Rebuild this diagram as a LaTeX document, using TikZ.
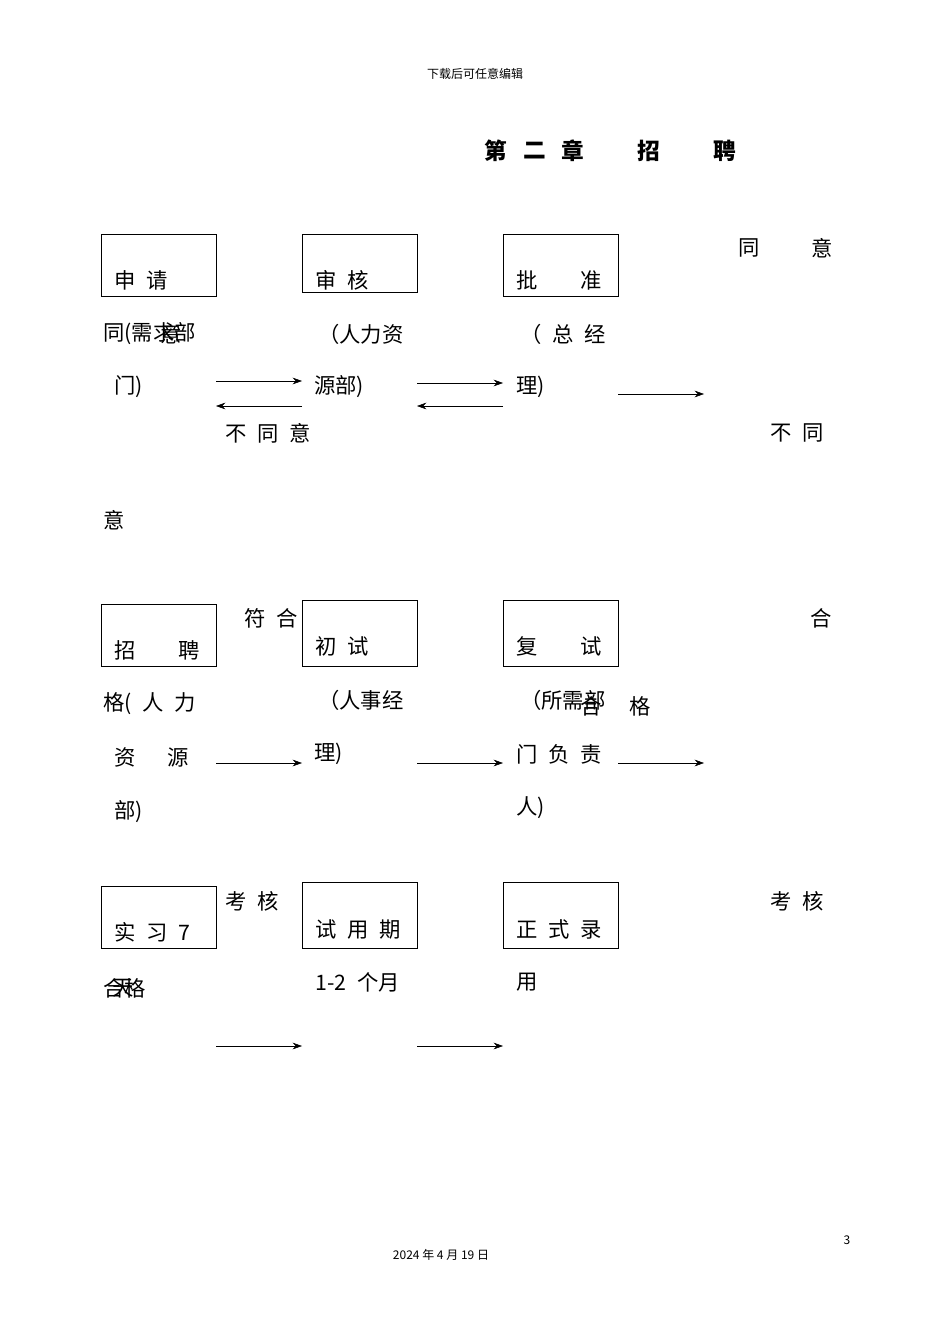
\documentclass[tikz,border=0pt]{standalone}
\usepackage{fontspec}
\setmainfont{Noto Sans CJK SC}
\usepackage{tikz}
\usetikzlibrary{arrows.meta}

\newcommand{\sg}{\hspace{0.5em}}
\tikzset{
  txt/.style={anchor=west, inner sep=0pt, font=\fontsize{16}{18}\selectfont},
  ttl/.style={inner sep=0pt, font=\fontsize{17}{18}\selectfont\bfseries},
  stepbox/.style={draw, fill=white},
  flow/.style={-{Stealth[length=7pt,width=5pt]}, thin}
}

\begin{document}
\begin{tikzpicture}[x=0.75pt, y=-0.75pt]
	\useasboundingbox (0,0) rectangle (950,1344);
	% header and title
	\node[inner sep=0pt, font=\fontsize{9}{10}\selectfont] (head) at (475,74) {下载后可任意编辑};
	\node[ttl] (ti1) at (496,151) {第};
	\node[ttl] (ti2) at (535,151) {二};
	\node[ttl] (ti3) at (573,151) {章};
	\node[ttl] (ti4) at (649,151) {招};
	\node[ttl] (ti5) at (725,151) {聘};
	% row one texts
	\node[txt] (t1) at (738,248) {同};
	\node[txt] (t2) at (811,248) {意};
	\node[txt] (t3) at (103,334) {同(需求部};
	\node[txt] (t4) at (160,334) {意};
	\node[txt] (t5) at (114,387) {门)};
	\node[txt] (t6) at (318,334) {（人力资};
	\node[txt] (t7) at (314,387) {源部)};
	\node[txt] (t8) at (520,334) {（\sg 总\sg 经};
	\node[txt] (t9) at (516,387) {理)};
	\node[txt] (t10) at (225,433) {不\sg 同\sg 意};
	\node[txt] (t11) at (770,433) {不\sg 同};
	\node[txt] (t12) at (103,520) {意};
	% row two texts
	\node[txt] (u1) at (244,618) {符\sg 合};
	\node[txt] (u2) at (810,618) {合};
	\node[txt] (u3) at (103,704) {格(\sg 人\sg 力};
	\node[txt] (u4) at (318,700) {（人事经};
	\node[txt] (u5) at (520,700) {（所需部};
	\node[txt] (u6) at (580,706) {合\hspace{1.3em}格};
	\node[txt] (u7) at (114,757) {资\hspace{1.5em}源};
	\node[txt] (u8) at (314,754) {理)};
	\node[txt] (u9) at (516,754) {门\sg 负\sg 责};
	\node[txt] (u10) at (114,812) {部)};
	\node[txt] (u11) at (516,808) {人)};
	% row three texts
	\node[txt] (v1) at (225,901) {考\sg 核};
	\node[txt] (v2) at (770,901) {考\sg 核};
	\node[txt] (v3) at (103,988) {合格};
	\node[txt] (v4) at (112,988) {天};
	\node[txt] (v5) at (315,982) {1-2\sg 个月};
	\node[txt] (v6) at (516,982) {用};
	% boxes
	\draw[stepbox] (101,234) rectangle (216,296);
	\draw[stepbox] (302,234) rectangle (417,292);
	\draw[stepbox] (503,234) rectangle (618,296);
	\draw[stepbox] (101,604) rectangle (216,666);
	\draw[stepbox] (302,600) rectangle (417,666);
	\draw[stepbox] (503,600) rectangle (618,666);
	\draw[stepbox] (101,886) rectangle (216,948);
	\draw[stepbox] (302,882) rectangle (417,948);
	\draw[stepbox] (503,882) rectangle (618,948);
	% box labels
	\node[txt] (apply) at (114,280) {申\sg 请};
	\node[txt] (audit) at (315,280) {审\sg 核};
	\node[txt] (appr) at (516,280) {批\hspace{2em}准};
	\node[txt] (recr) at (114,650) {招\hspace{2em}聘};
	\node[txt] (first) at (315,646) {初\sg 试};
	\node[txt] (second) at (516,646) {复\hspace{2em}试};
	\node[txt] (intern) at (114,932) {实\sg 习\sg 7};
	\node[txt] (trial) at (315,929) {试\sg 用\sg 期};
	\node[txt] (hire) at (516,929) {正\sg 式\sg 录};
	% arrows
	\coordinate (a1) at (216,381); \coordinate (a2) at (302,381);
	\coordinate (a3) at (302,406); \coordinate (a4) at (216,406);
	\coordinate (a5) at (417,383); \coordinate (a6) at (503,383);
	\coordinate (a7) at (503,406); \coordinate (a8) at (417,406);
	\coordinate (a9) at (618,394); \coordinate (a10) at (704,394);
	\draw[flow] (a1) -- (a2);
	\draw[flow] (a3) -- (a4);
	\draw[flow] (a5) -- (a6);
	\draw[flow] (a7) -- (a8);
	\draw[flow] (a9) -- (a10);
	\coordinate (b1) at (216,763); \coordinate (b2) at (302,763);
	\coordinate (b3) at (417,763); \coordinate (b4) at (503,763);
	\coordinate (b5) at (618,763); \coordinate (b6) at (704,763);
	\draw[flow] (b1) -- (b2);
	\draw[flow] (b3) -- (b4);
	\draw[flow] (b5) -- (b6);
	\coordinate (c1) at (216,1046); \coordinate (c2) at (302,1046);
	\coordinate (c3) at (417,1046); \coordinate (c4) at (503,1046);
	\draw[flow] (c1) -- (c2);
	\draw[flow] (c3) -- (c4);
	% footer
	\node[inner sep=0pt, font=\fontsize{9}{10}\selectfont] (page) at (847,1240) {3};
	\node[inner sep=0pt, font=\fontsize{9}{10}\selectfont] (date) at (441,1255) {2024 年 4 月 19 日};
\end{tikzpicture}
\end{document}
